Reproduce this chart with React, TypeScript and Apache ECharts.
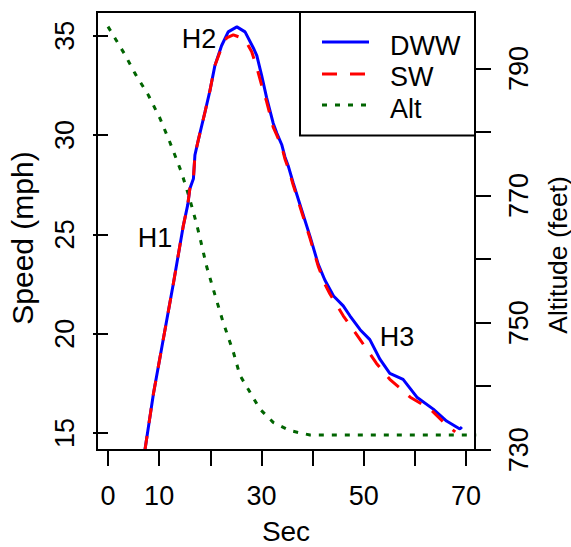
import React, { useEffect, useRef } from "react";
import * as echarts from "echarts";

// Time (sec) and speed (mph) for the DWW model
const dwwTime = [7.2, 8.9, 10.8, 12.8, 14.7, 15.6, 16.0, 16.7, 17.0, 17.7, 19.0, 19.9, 20.9, 22.2, 23.5, 25.2, 26.8, 28.4, 29.1, 30.05, 31.0, 32.3, 33.0, 34.0, 34.6, 35.3, 36.2, 37.9, 39.5, 41.1, 42.4, 44.1, 46.0, 47.3, 49.3, 51.2, 53.2, 55.1, 57.7, 60.4, 63.6, 66.2, 68.8, 69.2];
const dwwSpeed = [14.1, 17.0, 19.7, 22.55, 25.4, 26.5, 27.3, 27.8, 29.0, 29.8, 31.2, 32.2, 33.5, 34.5, 35.2, 35.45, 35.2, 34.4, 34.0, 33.0, 31.9, 30.6, 30.1, 29.5, 28.9, 28.4, 27.6, 26.2, 24.9, 23.5, 22.7, 21.9, 21.4, 20.9, 20.2, 19.7, 18.7, 18.0, 17.7, 16.8, 16.2, 15.6, 15.2, 15.3];

// Time (sec) and speed (mph) for the SW model
const swTime = [7.2, 8.9, 10.8, 12.8, 14.7, 15.6, 16.0, 16.7, 17.0, 17.7, 19.0, 19.9, 20.9, 22.2, 23.2, 24.5, 26.1, 27.0, 28.1, 29.1, 30.05, 31.0, 32.3, 33.0, 34.0, 34.6, 35.3, 36.2, 37.9, 39.5, 41.1, 42.4, 43.4, 46.0, 49.3, 52.5, 55.1, 59.1, 63.0, 66.2, 67.9];
const swSpeed = [14.1, 17.0, 19.7, 22.55, 25.4, 26.5, 27.3, 27.8, 29.0, 29.8, 31.2, 32.2, 33.5, 34.4, 34.9, 35.05, 34.9, 34.7, 34.2, 33.4, 32.5, 31.7, 30.4, 30.0, 29.4, 28.8, 28.3, 27.5, 26.1, 24.8, 23.4, 22.5, 22.0, 20.9, 19.7, 18.5, 17.7, 16.8, 16.2, 15.4, 15.05];

// Time (sec) and altitude (feet)
const altTime = [0, 3.3, 5.3, 7.9, 10.2, 12.1, 14.4, 16.0, 17.3, 18.0, 19.3, 20.9, 22.5, 24.5, 25.8, 27.8, 29.7, 32.3, 35.6, 39.5, 72];
const altFeet = [796.6, 792.2, 789.2, 785.8, 782.1, 778.4, 773.6, 769.4, 765.6, 763.3, 758.8, 754.4, 750.1, 745.4, 741.7, 739.0, 736.4, 734.3, 733.0, 732.3, 732.3];

// Annotations
const noteNames = ["H1", "H2", "H3"];
const noteTime = [9.2, 17.8, 56.5];
const noteSpeed = [24.8, 34.85, 19.83];

// Axis ticks and labels
const xTicks = [0, 10, 20, 30, 40, 50, 60, 70];
const xLabels = [0, 10, 30, 50, 70];
const speedTicks = [15, 20, 25, 30, 35];
const altTicks = [730, 740, 750, 760, 770, 780, 790];
const altLabels = [730, 750, 770, 790];

const legendNames = ["DWW", "SW", "Alt"];

const FONT = "Liberation Sans";
const FS = 27;

const zip = (a: number[], b: number[]) => a.map((v, i) => [v, b[i]]);

export default function App() {
  const ref = useRef<HTMLDivElement>(null);
  useEffect(() => {
    if (!ref.current) return;
    const chart = echarts.init(ref.current, undefined, { renderer: "svg" });
    const tickStyle = { show: true, length: 16, lineStyle: { color: "#000", width: 2 } };
    const option: any = {
      animation: false,
      backgroundColor: "#fff",
      textStyle: { fontFamily: FONT },
      grid: {
        left: 97,
        right: 96,
        top: 12,
        bottom: 97,
        containLabel: false,
        outerBoundsMode: "none",
        show: true,
        borderColor: "#000",
        borderWidth: 2,
        z: 10,
      },
      xAxis: {
        type: "value",
        min: -2.15,
        max: 71.76,
        name: "Sec",
        nameLocation: "middle",
        nameGap: 67,
        nameTextStyle: { fontSize: 28, color: "#000", fontFamily: FONT },
        axisLine: { show: false },
        axisTick: { ...tickStyle, customValues: xTicks },
        axisLabel: { customValues: xLabels, fontSize: FS, color: "#000", margin: 32, fontFamily: FONT },
        splitLine: { show: false },
      },
      yAxis: [
        {
          type: "value",
          min: 14.14,
          max: 36.2,
          position: "left",
          name: "Speed (mph)",
          nameLocation: "middle",
          nameRotate: 90,
          nameGap: 60,
          nameTextStyle: { fontSize: 30, color: "#000", fontFamily: FONT, padding: [0, 14, 0, 0] },
          axisLine: { show: false },
          axisTick: { ...tickStyle, length: 15, customValues: speedTicks },
          axisLabel: { customValues: speedTicks, rotate: 90, fontSize: FS, color: "#000", margin: 19, fontFamily: FONT },
          splitLine: { show: false },
        },
        {
          type: "value",
          min: 729.95,
          max: 798.9,
          position: "right",
          name: "Altitude (feet)",
          nameLocation: "middle",
          nameRotate: 90,
          nameGap: 69,
          nameTextStyle: { fontSize: 26.5, color: "#000", fontFamily: FONT, padding: [0, 48, 0, 0] },
          axisLine: { show: false },
          axisTick: { ...tickStyle, customValues: altTicks },
          axisLabel: { customValues: altLabels, rotate: 90, fontSize: FS, color: "#000", margin: 30, fontFamily: FONT },
          splitLine: { show: false },
        },
      ],
      series: [
        {
          name: legendNames[2],
          type: "line",
          yAxisIndex: 1,
          data: zip(altTime, altFeet),
          symbol: "none",
          clip: true,
          lineStyle: { color: "#006400", width: 3, type: [5, 8] },
        },
        {
          name: legendNames[0],
          type: "line",
          data: zip(dwwTime, dwwSpeed),
          symbol: "none",
          clip: true,
          lineStyle: { color: "#0000ff", width: 3, type: "solid" },
        },
        {
          name: legendNames[1],
          type: "line",
          data: zip(swTime, swSpeed),
          symbol: "none",
          clip: true,
          lineStyle: { color: "#ff0000", width: 3, type: [15, 13] },
        },
        {
          type: "scatter",
          symbolSize: 1,
          itemStyle: { color: "rgba(0,0,0,0)", opacity: 1 },
          data: noteNames.map((n, i) => ({ name: n, value: [noteTime[i], noteSpeed[i]] })),
          label: {
            show: true,
            position: "inside",
            formatter: (p: any) => p.name,
            fontSize: FS,
            color: "#000",
            opacity: 1,
            textBorderWidth: 0,
            fontFamily: FONT,
          },
        },
      ],
      graphic: [
        {
          type: "rect",
          shape: { x: 300, y: 12, width: 175, height: 123.6 },
          style: { fill: "#fff", stroke: "#000", lineWidth: 2 },
          z: 20,
        },
        { type: "line", shape: { x1: 322, y1: 42, x2: 369, y2: 42 }, style: { stroke: "#0000ff", lineWidth: 3 }, z: 21 },
        { type: "line", shape: { x1: 322, y1: 74, x2: 369, y2: 74 }, style: { stroke: "#ff0000", lineWidth: 3, lineDash: [15, 13] }, z: 21 },
        { type: "line", shape: { x1: 322, y1: 105, x2: 369, y2: 105 }, style: { stroke: "#006400", lineWidth: 3, lineDash: [5, 8] }, z: 21 },
        ...legendNames.map((n, i) => ({
          type: "text",
          x: 390,
          y: [45.5, 77, 108.5][i],
          style: { text: n, fontSize: FS, fontFamily: FONT, fill: "#000", verticalAlign: "middle", align: "left" },
          z: 21,
        })),
      ],
    };
    chart.setOption(option);
    return () => chart.dispose();
  }, []);
  return <div ref={ref} style={{ position: "absolute", left: 0, top: 0, width: 571, height: 547 }} />;
}
